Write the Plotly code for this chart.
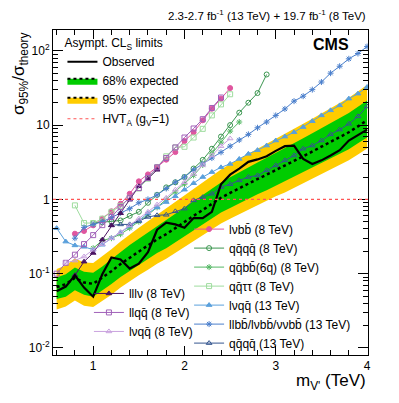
import plotly.graph_objects as go

# -- ------------------------------------------------------------------ datos -- #
# masas de resonancia (TeV)
mass_13 = [0.6, 0.7, 0.8, 0.9, 1.0, 1.1, 1.2, 1.3, 1.4, 1.5, 1.6, 1.7, 1.8, 1.9, 2.0,
           2.1, 2.2, 2.3, 2.4, 2.5, 2.6, 2.7, 2.8, 2.9, 3.0, 3.1, 3.2, 3.3, 3.4, 3.5,
           3.6, 3.7, 3.8, 3.9, 4.0]

# combinacion: observado, esperado y bandas
observed = [0.058, 0.067, 0.095, 0.065, 0.049, 0.098, 0.165, 0.155, 0.117, 0.136, 0.195,
            0.39, 0.485, 0.46, 0.416, 0.56, 0.56, 0.68, 1.6, 2.15, 2.59, 3.2, 3.45, 3.8,
            4.5, 5.2, 5.3, 3.5, 3.0, 3.35, 3.9, 4.6, 6.2, 7.3, 8.7]
expected = [0.066, 0.072, 0.088, 0.076, 0.073, 0.088, 0.108, 0.135, 0.165, 0.20, 0.24,
            0.29, 0.34, 0.41, 0.50, 0.60, 0.72, 0.88, 1.05, 1.22, 1.42, 1.63, 1.88, 2.15,
            2.5, 2.85, 3.3, 3.8, 4.4, 5.1, 5.9, 6.9, 8.0, 9.6, 11.6]
exp68_hi = [0.089, 0.098, 0.121, 0.106, 0.103, 0.125, 0.156, 0.196, 0.243, 0.296, 0.36,
            0.438, 0.52, 0.631, 0.78, 0.942, 1.145, 1.41, 1.69, 1.99, 2.33, 2.71, 3.14,
            3.63, 4.25, 4.9, 5.71, 6.65, 7.74, 9.08, 10.6, 12.5, 14.6, 17.7, 21.5]
exp68_lo = [0.0455, 0.049, 0.060, 0.052, 0.049, 0.059, 0.0725, 0.090, 0.109, 0.132, 0.158,
            0.19, 0.22, 0.265, 0.323, 0.385, 0.459, 0.559, 0.665, 0.767, 0.888, 1.02, 1.17,
            1.33, 1.53, 1.75, 2.01, 2.3, 2.65, 3.07, 3.53, 4.11, 4.73, 5.68, 6.8]
exp95_hi = [0.1155, 0.129, 0.160, 0.141, 0.139, 0.170, 0.213, 0.270, 0.337, 0.416, 0.509,
            0.624, 0.745, 0.914, 1.135, 1.38, 1.685, 2.09, 2.53, 2.99, 3.54, 4.11, 4.81,
            5.59, 6.58, 7.61, 8.94, 10.4, 12.2, 14.4, 16.8, 19.9, 23.4, 28.4, 34.8]
exp95_lo = [0.033, 0.036, 0.0436, 0.037, 0.0356, 0.0427, 0.052, 0.065, 0.079, 0.095, 0.113,
            0.136, 0.159, 0.191, 0.231, 0.275, 0.329, 0.40, 0.475, 0.55, 0.634, 0.724,
            0.832, 0.947, 1.1, 1.24, 1.43, 1.64, 1.89, 2.18, 2.51, 2.92, 3.36, 4.02, 4.83]

# canales individuales
m_lvbb_8 = [0.8, 0.9, 1.0, 1.1, 1.2, 1.3, 1.4, 1.5, 1.6, 1.7, 1.8, 1.9, 2.0, 2.1, 2.2, 2.3, 2.4, 2.5]
lvbb_8 = [0.345, 0.375, 0.447, 0.55, 0.69, 0.875, 1.19, 1.75, 2.17, 2.72, 3.42, 4.33, 6.1,
          8.0, 11.6, 16.6, 22.7, 31.5]

m_qqqq_8 = [1.0, 1.1, 1.2, 1.3, 1.4, 1.5, 1.6, 1.7, 1.8, 1.9, 2.0, 2.1, 2.2, 2.3, 2.4, 2.5,
            2.6, 2.7, 2.8, 2.9]
qqqq_8 = [0.48, 0.49, 0.5, 0.52, 0.6, 0.68, 0.9, 1.15, 1.45, 1.7, 2.0, 2.6, 3.4, 4.8, 7.0,
          10.0, 14.7, 20.0, 27.0, 48.0]

m_qqbb_8 = [1.0, 1.1, 1.2, 1.3, 1.4, 1.5, 1.6, 1.7, 1.8, 1.9, 2.0, 2.1, 2.2, 2.3, 2.4, 2.5, 2.6]
qqbb_8 = [0.22, 0.28, 0.3, 0.34, 0.41, 0.5, 0.62, 0.78, 1.0, 1.25, 1.6, 2.1, 2.9, 4.1, 5.9,
          8.3, 11.0]

m_qqtt_8 = [0.8, 0.9, 1.0, 1.1, 1.2, 1.3, 1.4, 1.5, 1.6, 1.7, 1.8, 1.9, 2.0, 2.1, 2.2, 2.3, 2.4, 2.5]
qqtt_8 = [0.83, 0.48, 0.48, 0.55, 0.68, 0.82, 1.05, 1.4, 1.9, 2.7, 3.8, 5.0, 5.1, 6.8, 8.9,
          13.5, 19.0, 26.0]

lvqq_13 = [0.41, 0.27, 0.24, 0.23, 0.21, 0.245, 0.30, 0.36, 0.44, 0.52, 0.65, 0.78, 0.92,
           1.1, 1.35, 1.65, 2.0, 2.33, 2.7, 3.0, 3.5, 4.1, 4.6, 5.3, 6.2, 7.0, 8.0, 9.4,
           11.3, 13.5, 15.8, 18.4, 22.7, 26.5, 32.5]

m_llbb_13 = mass_13[2:]
llbb_13 = [0.3, 0.42, 0.46, 0.5, 0.57, 0.66, 0.75, 0.9, 1.0, 1.15, 1.4, 1.7, 2.0, 2.5, 3.0,
           3.6, 4.3, 5.2, 6.3, 7.5, 9.2, 11.0, 13.5, 16.5, 21.0, 24.5, 30.0, 38.0, 50.0,
           62.0, 78.0, 92.0, 114.0]

m_qqqq_13 = mass_13[6:]
qqqq_13 = [0.447, 0.46, 0.46, 0.51, 0.58, 0.61, 0.62, 0.69, 0.75, 0.97, 1.07, 1.19, 1.46,
           1.6, 1.8, 2.0, 2.1, 2.46, 2.87, 3.35, 3.9, 4.8, 5.3, 6.2, 7.5, 8.7, 10.4, 13.1, 17.8]

m_lllv_8 = [0.8, 0.9, 1.0, 1.1, 1.2, 1.3, 1.4, 1.5, 1.6, 1.7]
lllv_8 = [0.095, 0.145, 0.19, 0.286, 0.447, 0.65, 0.99, 1.5, 1.9, 2.5]

m_llqq_8 = [0.6, 0.7, 0.8, 0.9, 1.0, 1.1, 1.2, 1.3, 1.4, 1.5, 1.6, 1.7, 1.8, 1.9, 2.0, 2.1,
            2.2, 2.3, 2.4]
llqq_8 = [0.1, 0.14, 0.18, 0.25, 0.33, 0.45, 0.58, 0.79, 1.04, 1.42, 1.95, 2.7, 3.6, 5.0,
          6.8, 9.0, 12.0, 17.0, 23.5]

m_lvqq_8 = [0.7, 0.8, 0.9, 1.0, 1.1, 1.2, 1.3, 1.4, 1.5, 1.6, 1.7, 1.8, 1.9, 2.0, 2.1, 2.2,
            2.3, 2.4, 2.5]
lvqq_8 = [0.14, 0.15, 0.17, 0.21, 0.25, 0.3, 0.36, 0.45, 0.55, 0.68, 0.85, 1.05, 1.35, 1.7,
          2.2, 2.9, 3.9, 5.2, 6.6]

hvt_ref = 1.0

# -- ------------------------------------------------------------------ figura -- #
FONT = "Liberation Sans"
VERDE = "#00cc00"
AMARILLO = "#ffcc00"

fig = go.Figure()

# bandas
fig.add_trace(go.Scatter(x=mass_13, y=exp95_lo, mode='lines', line=dict(width=0),
                         showlegend=False, hoverinfo='skip'))
fig.add_trace(go.Scatter(x=mass_13, y=exp95_hi, mode='lines', line=dict(width=0),
                         fill='tonexty', fillcolor=AMARILLO, showlegend=False))
fig.add_trace(go.Scatter(x=mass_13, y=exp68_lo, mode='lines', line=dict(width=0),
                         showlegend=False, hoverinfo='skip'))
fig.add_trace(go.Scatter(x=mass_13, y=exp68_hi, mode='lines', line=dict(width=0),
                         fill='tonexty', fillcolor=VERDE, showlegend=False))

fig.add_hline(y=hvt_ref, line=dict(color='#ff5555', width=1.2, dash='dot'))


def canal(x, y, nombre, color, simbolo, leyenda, size=5):
    fig.add_trace(go.Scatter(x=x, y=y, mode='lines+markers', name=nombre, legend=leyenda,
                             line=dict(color=color, width=1),
                             marker=dict(symbol=simbolo, size=size, color=color,
                                         line=dict(color=color, width=1))))


canal(m_lvbb_8, lvbb_8, 'lνbb̄ (8 TeV)', '#e0569f', 'circle', 'legend3')
canal(m_qqqq_8, qqqq_8, 'qq̄qq̄ (8 TeV)', '#3b9650', 'circle-open', 'legend3')
canal(m_qqbb_8, qqbb_8, 'qq̄bb̄(6q) (8 TeV)', '#55b865', 'asterisk-open', 'legend3')
canal(m_qqtt_8, qqtt_8, 'qq̄ττ (8 TeV)', '#9edc9e', 'square-open', 'legend3')
canal(mass_13, lvqq_13, 'lνqq̄ (13 TeV)', '#5aa0dc', 'triangle-up', 'legend3')
canal(m_llbb_13, llbb_13, 'llbb̄/lνbb̄/ννbb̄ (13 TeV)', '#4a7fcc', 'asterisk-open', 'legend3')
canal(m_qqqq_13, qqqq_13, 'qq̄qq̄ (13 TeV)', '#34568f', 'triangle-up-open', 'legend3')
canal(m_lllv_8, lllv_8, 'lllν (8 TeV)', '#4b1462', 'triangle-up', 'legend2')
canal(m_llqq_8, llqq_8, 'llqq̄ (8 TeV)', '#a060b8', 'square-open', 'legend2')
canal(m_lvqq_8, lvqq_8, 'lνqq̄ (8 TeV)', '#c9a2df', 'triangle-up-open', 'legend2')

# esperado y observado
fig.add_trace(go.Scatter(x=mass_13, y=expected, mode='lines', showlegend=False,
                         line=dict(color='black', width=2.5, dash='dot')))
fig.add_trace(go.Scatter(x=mass_13, y=observed, mode='lines', name='Observed',
                         legend='legend', legendrank=1,
                         line=dict(color='black', width=2.2)))

# entradas de leyenda de las bandas
fig.add_trace(go.Scatter(x=[None], y=[None], mode='lines', name='68% expected',
                         legend='legend', legendrank=2, fill='toself', fillcolor=VERDE,
                         line=dict(color='black', width=2, dash='dot')))
fig.add_trace(go.Scatter(x=[None], y=[None], mode='lines', name='95% expected',
                         legend='legend', legendrank=3, fill='toself', fillcolor=AMARILLO,
                         line=dict(color='black', width=2, dash='dot')))
fig.add_trace(go.Scatter(x=[None], y=[None], mode='lines',
                         name='HVT<sub>A</sub> (g<sub>V</sub>=1)',
                         legend='legend', legendrank=4,
                         line=dict(color='#ff5555', width=1.2, dash='dot')))

leg = dict(bgcolor='rgba(0,0,0,0)', borderwidth=0, font=dict(family=FONT, size=12, color='black'),
           xanchor='left', yanchor='top', traceorder='normal', itemwidth=30)

# la pagina agrega 8 px de margen al body: se compensa en los margenes
fig.update_layout(
    width=399, height=403,
    margin=dict(l=45, r=39, t=22, b=56),
    paper_bgcolor='white', plot_bgcolor='white',
    font=dict(family=FONT, size=12, color='black'),
    legend=dict(leg, x=0.03, y=0.995,
                title=dict(text='Asympt. CL<sub>S</sub> limits',
                           font=dict(family=FONT, size=12))),
    legend2=dict(leg, x=0.114, y=0.234),
    legend3=dict(leg, x=0.432, y=0.432),
)

fig.update_xaxes(type='linear', range=[0.56, 4.01], showgrid=False, zeroline=False,
                 showline=True, linecolor='black', linewidth=1, mirror='ticks',
                 ticks='inside', ticklen=9, tickcolor='black', tickvals=[1, 2, 3, 4],
                 tickfont=dict(family=FONT, size=12),
                 minor=dict(ticks='inside', ticklen=5, dtick=0.2, tick0=0,
                            tickcolor='black', showgrid=False))

decadas = [0.01, 0.1, 1, 10, 100]
menores = [k * d for d in [0.01, 0.1, 1, 10, 100] for k in range(2, 10)]
fig.update_yaxes(type='log', range=[-2.095, 2.28], showgrid=False, zeroline=False,
                 showline=True, linecolor='black', linewidth=1, mirror='ticks',
                 ticks='inside', ticklen=10, tickcolor='black', tickvals=decadas,
                 ticktext=['10<sup>-2</sup>', '10<sup>-1</sup>', '1', '10', '10<sup>2</sup>'],
                 tickfont=dict(family=FONT, size=12),
                 minor=dict(ticks='inside', ticklen=5, tickvals=menores,
                            tickcolor='black', showgrid=False))

fig.add_annotation(text='2.3-2.7 fb<sup>-1</sup> (13 TeV) + 19.7 fb<sup>-1</sup> (8 TeV)',
                   xref='paper', yref='paper', x=1.0, y=1.045, xanchor='right',
                   yanchor='middle', showarrow=False, font=dict(family=FONT, size=11.5))
fig.add_annotation(text='<b>CMS</b>', xref='paper', yref='paper', x=0.946, y=0.955,
                   xanchor='right', yanchor='middle', showarrow=False,
                   font=dict(family=FONT, size=16))
fig.add_annotation(text='σ<sub>95%</sub>/σ<sub>theory</sub>', textangle=-90,
                   xref='paper', yref='paper', x=-0.106, y=1.0, xanchor='center',
                   yanchor='top', showarrow=False, font=dict(family=FONT, size=17))
fig.add_annotation(text="m<sub>V'</sub> (TeV)", xref='paper', yref='paper', x=1.0, y=-0.082,
                   xanchor='right', yanchor='middle', showarrow=False,
                   font=dict(family=FONT, size=17))

fig.write_html("out.html")
